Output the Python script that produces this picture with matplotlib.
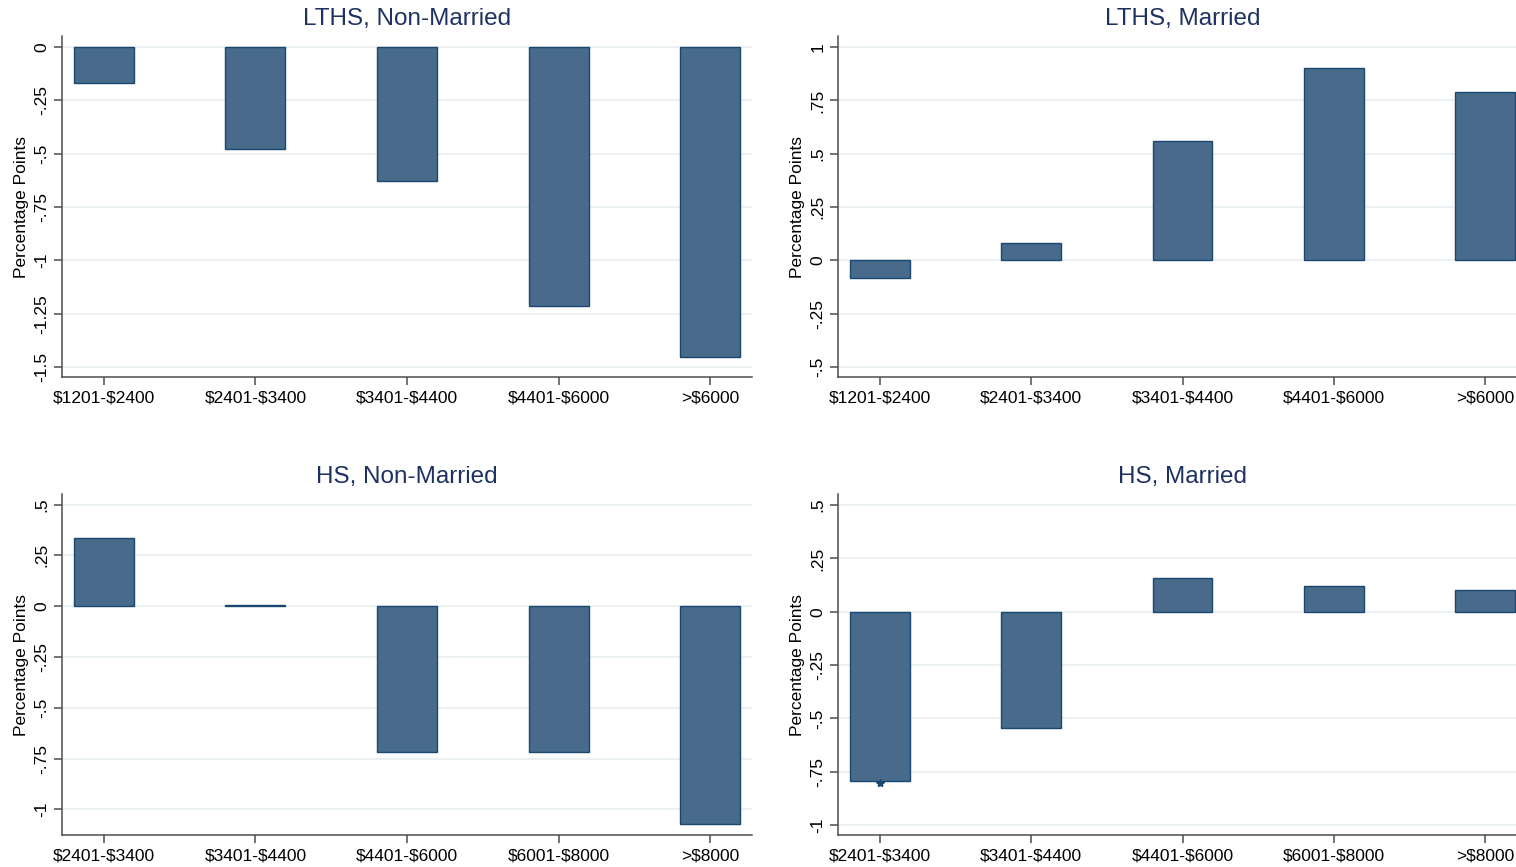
import numpy as np
import matplotlib; matplotlib.use("Agg")
import matplotlib.pyplot as plt
from matplotlib.ticker import FixedLocator
from matplotlib.transforms import ScaledTranslation

plt.rcParams["font.family"]=["Liberation Sans","DejaVu Sans"]
plt.rcParams["text.parse_math"]=False

# income bins and estimated effects (percentage points)
LTHS_BINS=["$1201-$2400","$2401-$3400","$3401-$4400","$4401-$6000",">$6000"]
HS_BINS=["$2401-$3400","$3401-$4400","$4401-$6000","$6001-$8000",">$8000"]
LTHS_NONMAR=[-0.17,-0.48,-0.63,-1.215,-1.455]
LTHS_MAR=[-0.083,0.08,0.56,0.90,0.79]
HS_NONMAR=[0.336,0.005,-0.72,-0.72,-1.07]
HS_MAR=[-0.795,-0.547,0.158,0.12,0.10]
HS_MAR_SIG=[True,False,False,False,False]

TICKS_A=[0,-.25,-.5,-.75,-1,-1.25,-1.5]
TICKS_B=[1,.75,.5,.25,0,-.25,-.5]
TICKS_C=[.5,.25,0,-.25,-.5,-.75,-1]
TICK_LAB={0:"0",.25:".25",.5:".5",.75:".75",1:"1",-.25:"-.25",-.5:"-.5",-.75:"-.75",-1:"-1",-1.25:"-1.25",-1.5:"-1.5"}

NAVY="#1a476f"; TITLE="#1e3262"; BAR="#486b8c"; GRID="#e9f0f1"; AX="#4d4d4d"

W,H=1516,867
def px(l,t,r,b): return [l/W,1-b/H,(r-l)/W,(b-t)/H]

panels=[
    ("LTHS, Non-Married",LTHS_BINS,LTHS_NONMAR,None,TICKS_A,(-1.547,0.052),px(62,36,752,377)),
    ("LTHS, Married",LTHS_BINS,LTHS_MAR,None,TICKS_B,(-0.547,1.052),px(838,36,1527,377)),
    ("HS, Non-Married",HS_BINS,HS_NONMAR,None,TICKS_C,(-1.126,0.552),px(62,494,752,835)),
    ("HS, Married",HS_BINS,HS_MAR,HS_MAR_SIG,TICKS_C,(-1.047,0.552),px(838,494,1527,835)),
]

fig=plt.figure(figsize=(W/100,H/100),dpi=100)
for title,bins,vals,sig,ticks,ylim,pos in panels:
    ax=fig.add_axes(pos)
    x=np.arange(1,len(bins)+1)
    ax.bar(x,vals,width=0.396,color=BAR,edgecolor=NAVY,lw=1,zorder=3)
    if sig:
        # significance star just under the bar end
        off=ax.transData+ScaledTranslation(0,-2/100,fig.dpi_scale_trans)
        for xi,v,s in zip(x,vals,sig):
            if s: ax.plot(xi,v,marker="*",ms=6,color=NAVY,mec=NAVY,zorder=4,transform=off)
    ax.set_xlim(0.723,5.277); ax.set_ylim(*ylim)
    ax.set_xticks(x); ax.set_xticklabels(bins,fontsize=12.5)
    ax.yaxis.set_major_locator(FixedLocator(ticks))
    ax.set_yticklabels([TICK_LAB[t] for t in ticks],rotation=90,va="center",fontsize=12.5)
    for t in ticks: ax.axhline(t,color=GRID,lw=1.3,zorder=1)
    for s in ["top","right"]: ax.spines[s].set_visible(False)
    for s in ["left","bottom"]: ax.spines[s].set_color(AX); ax.spines[s].set_linewidth(1.1)
    ax.tick_params(axis="both",color=AX,length=6,width=1.1,labelcolor="black")
    ax.tick_params(axis="y",pad=3); ax.tick_params(axis="x",pad=4)
    ax.set_ylabel("Percentage Points",fontsize=12.5,labelpad=4)
    ax.set_title(title,fontsize=17.5,color=TITLE,pad=8)

fig.savefig("out.png",dpi=100)
